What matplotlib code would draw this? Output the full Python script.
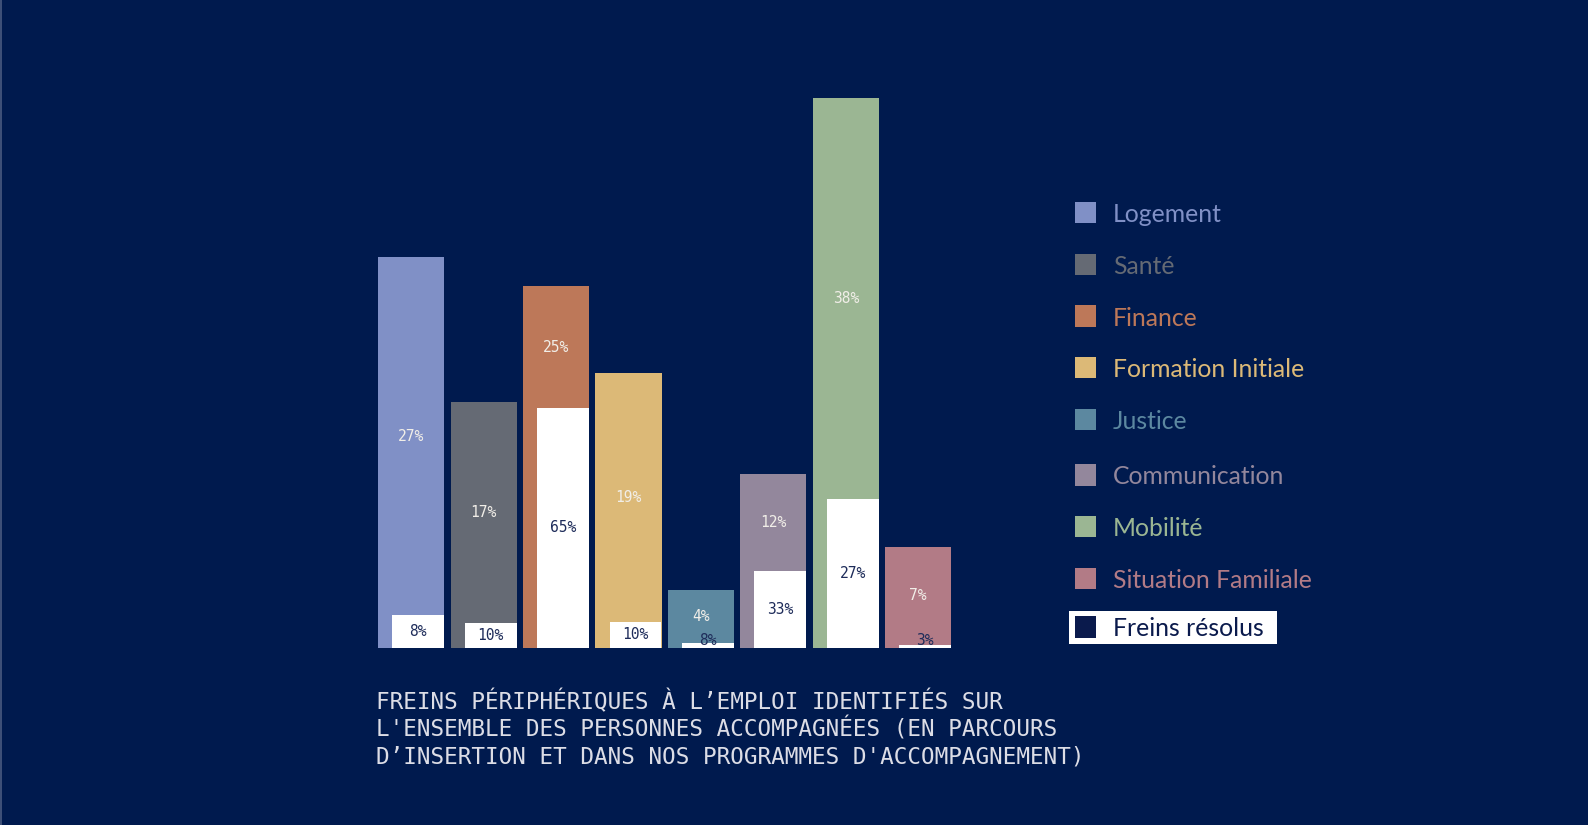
import matplotlib
matplotlib.use("Agg")
import matplotlib.pyplot as plt
import numpy as np
from matplotlib.lines import Line2D
from matplotlib.patches import Rectangle

# ---- data ----
categories = ["Logement", "Santé", "Finance", "Formation Initiale", "Justice",
              "Communication", "Mobilité", "Situation Familiale"]
share_pct = [27, 17, 25, 19, 4, 12, 38, 7]            # colored bars (% of people)
resolved_labels = ["8%", "10%", "65%", "10%", "8%", "33%", "27%", "3%"]
resolved_height = [2.3, 1.7, 16.6, 1.8, 0.35, 5.3, 10.3, 0.2]  # white bar heights (same scale)
colors = ["#8090C6", "#656A74", "#BD7859", "#DCB977", "#5C88A0",
          "#93879C", "#9BB693", "#B27B86"]
legend_label_resolved = "Freins résolus"
caption_lines = [
    "FREINS PÉRIPHÉRIQUES À L’EMPLOI IDENTIFIÉS SUR",
    "L'ENSEMBLE DES PERSONNES ACCOMPAGNÉES (EN PARCOURS",
    "D’INSERTION ET DANS NOS PROGRAMMES D'ACCOMPAGNEMENT)",
]

BG = "#001A4E"
NAVY_TXT = "#1E2C5A"
W, H = 1588, 825

fig = plt.figure(figsize=(W / 100, H / 100), dpi=100)
fig.patch.set_facecolor(BG)

def fx(px):
    return px / W

def fy(py):
    return 1 - py / H

# axes: 8 slots of 72.4 px, starting at 375 px; y 0..40 with bottom at 648 px
ax_left, ax_w = 375.1, 579.2
ax_bottom_px, ax_h = 648.0, 578.8
ax = fig.add_axes([fx(ax_left), fy(ax_bottom_px), ax_w / W, ax_h / H])
ax.set_facecolor(BG)
ax.set_xlim(-0.5, 7.5)
ax.set_ylim(0, 40)
ax.axis("off")

x = np.arange(len(categories))
bar_w = 0.912
white_w = 0.718
white_off = 0.0967

ax.bar(x, share_pct, width=bar_w, color=colors, linewidth=0)
ax.bar(x + white_off, resolved_height, width=white_w, color="white", linewidth=0)

mono = "DejaVu Sans Mono"
for i in range(len(categories)):
    seg_mid = (resolved_height[i] + share_pct[i]) / 2
    ax.text(x[i], seg_mid, f"{share_pct[i]}%", ha="center", va="center",
            color="#F1EEE8", fontsize=10.5, family=mono)
    ly = max(resolved_height[i] / 2, 0.5)
    ax.text(x[i] + white_off, ly, resolved_labels[i], ha="center", va="center",
            color=NAVY_TXT, fontsize=10.5, family=mono)

# caption
for k, line in enumerate(caption_lines):
    fig.text(fx(376), fy(702 + 27.3 * k), line, ha="left", va="center",
             color="#DCDDE6", fontsize=16.3, family=mono)

# legend
leg_font = "Lato"
leg_y = [212.7, 264.3, 316, 367.6, 419.3, 475, 526.6, 578.3]
sq = 21.3
sq_x = 1074.5
txt_x = 1113
leg_size = 17.8
for name, c, yy in zip(categories, colors, leg_y):
    fig.patches.append(Rectangle((fx(sq_x), fy(yy + sq / 2)), sq / W, sq / H,
                                 transform=fig.transFigure, facecolor=c,
                                 edgecolor="none"))
    fig.text(fx(txt_x), fy(yy + 2), name, ha="left", va="center", color=c,
             fontsize=leg_size, family=leg_font)

# resolved entry with white box
yy = 626.9
fig.patches.append(Rectangle((fx(1068.5), fy(644)), (1277 - 1068.5) / W, 33.3 / H,
                             transform=fig.transFigure, facecolor="white",
                             edgecolor="none"))
fig.patches.append(Rectangle((fx(sq_x), fy(yy + sq / 2)), sq / W, sq / H,
                             transform=fig.transFigure, facecolor="#0A1A4C",
                             edgecolor="none"))
fig.text(fx(txt_x), fy(yy + 2), legend_label_resolved, ha="left", va="center",
         color="#0A1A4C", fontsize=leg_size, family=leg_font)

# thin lighter edge at left of image
fig.add_artist(Line2D([fx(0.8), fx(0.8)], [0, 1], transform=fig.transFigure,
                      color="#4A5A80", linewidth=1.2))

fig.savefig("out.png", dpi=100, facecolor=BG)
